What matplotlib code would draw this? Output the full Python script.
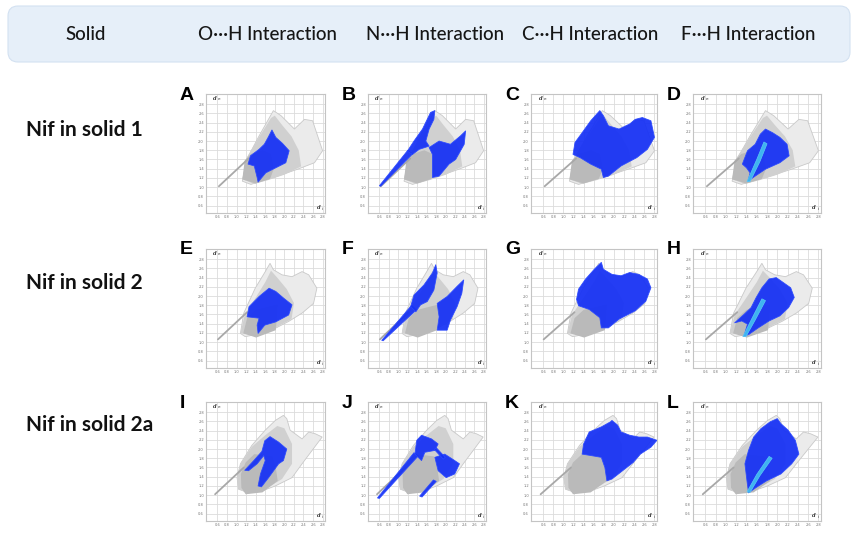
import matplotlib
matplotlib.use('Agg')
import matplotlib.pyplot as plt
from matplotlib.patches import Polygon, FancyBboxPatch
from matplotlib import font_manager

# Header / row labels / panel letters
headers = ['Solid', 'O\u00b7\u00b7\u00b7H Interaction', 'N\u00b7\u00b7\u00b7H Interaction',
           'C\u00b7\u00b7\u00b7H Interaction', 'F\u00b7\u00b7\u00b7H Interaction']
row_labels = ['Nif in solid 1', 'Nif in solid 2', 'Nif in solid 2a']
panel_letters = ['A', 'B', 'C', 'D', 'E', 'F', 'G', 'H', 'I', 'J', 'K', 'L']

# axis ticks (d_i / d_e in Angstrom)
ticks = [0.6, 0.8, 1.0, 1.2, 1.4, 1.6, 1.8, 2.0, 2.2, 2.4, 2.6, 2.8]
tick_labels = ['0.6', '0.8', '1.0', '1.2', '1.4', '1.6', '1.8', '2.0', '2.2', '2.4', '2.6', '2.8']

# full fingerprint outline (di, de) per solid
env_row1 = [(1.12, 1.13), (1.23, 1.64), (1.47, 2.11), (1.77, 2.66), (1.93, 2.55), (2.21, 2.26),
            (2.42, 2.47), (2.59, 2.44), (2.80, 1.79), (2.63, 1.53), (2.28, 1.39), (1.86, 1.24),
            (1.51, 1.13), (1.30, 1.06)]
env_row2 = [(1.08, 1.19), (1.15, 1.63), (1.39, 2.17), (1.60, 2.53), (1.70, 2.71), (1.77, 2.57),
            (1.95, 2.46), (2.16, 2.42), (2.37, 2.53), (2.51, 2.46), (2.68, 2.17), (2.61, 1.84),
            (2.37, 1.63), (2.09, 1.45), (1.81, 1.30), (1.39, 1.16), (1.18, 1.12)]
env_row3 = [(1.01, 1.38), (1.08, 1.68), (1.32, 2.08), (1.60, 2.41), (1.81, 2.62), (1.98, 2.73),
            (2.05, 2.66), (2.12, 2.41), (2.37, 2.22), (2.51, 2.37), (2.65, 2.33), (2.79, 2.26),
            (2.58, 1.97), (2.37, 1.68), (2.16, 1.38), (1.81, 1.20), (1.53, 1.09), (1.25, 1.05),
            (1.04, 1.13)]

# denser middle part
mid_row1 = [(1.12, 1.17), (1.20, 1.62), (1.45, 2.05), (1.72, 2.50), (1.80, 2.55), (1.95, 2.35),
            (2.15, 2.10), (2.30, 1.80), (2.35, 1.45), (2.00, 1.27), (1.65, 1.15), (1.37, 1.07)]
mid_row2 = [(1.08, 1.19), (1.17, 1.59), (1.39, 1.95), (1.60, 2.30), (1.72, 2.55), (1.85, 2.40),
            (2.05, 2.15), (2.20, 1.85), (2.15, 1.50), (1.81, 1.31), (1.39, 1.15)]
mid_row3 = [(1.01, 1.38), (1.08, 1.68), (1.32, 2.05), (1.60, 2.30), (1.85, 2.50), (2.00, 2.45),
            (2.16, 2.11), (2.16, 1.68), (1.95, 1.35), (1.60, 1.13), (1.25, 1.05), (1.04, 1.13)]

# densest core
core_row1 = [(1.12, 1.17), (1.17, 1.58), (1.30, 1.72), (1.55, 1.80), (1.72, 1.72), (1.78, 1.40),
             (1.70, 1.18), (1.40, 1.08)]
core_row2 = [(1.14, 1.19), (1.22, 1.52), (1.40, 1.70), (1.86, 1.82), (1.84, 1.50), (1.82, 1.26),
             (1.41, 1.10)]
core_row3 = [(1.09, 1.46), (1.19, 1.71), (1.37, 1.89), (1.75, 1.84), (1.82, 1.60), (1.86, 1.31),
             (1.54, 1.06), (1.19, 1.02), (1.10, 1.16)]

# thin diagonal spike (start, end)
spike_row1 = [(0.63, 1.02), (1.25, 1.62)]
spike_row2 = [(0.61, 1.06), (1.22, 1.65)]
spike_row3 = [(0.55, 1.02), (1.15, 1.60)]

# highlighted contacts (blue)
blue_A = [[(1.24, 1.50), (1.29, 1.68), (1.47, 1.82), (1.58, 1.93), (1.66, 2.08), (1.74, 2.24),
           (1.82, 2.08), (1.96, 1.95), (2.10, 1.79), (2.03, 1.53), (1.82, 1.42), (1.61, 1.31),
           (1.45, 1.11), (1.43, 1.21), (1.37, 1.46)]]
blue_B = [[(0.60, 1.03), (1.20, 1.80), (1.30, 1.72), (0.63, 1.02)],
          [(1.19, 1.78), (1.33, 2.00), (1.51, 2.26), (1.68, 2.62), (1.77, 2.66), (1.75, 2.47),
           (1.65, 2.26), (1.58, 2.00), (1.65, 1.89), (1.44, 1.82), (1.30, 1.71)],
          [(1.65, 1.86), (1.86, 2.00), (2.10, 1.93), (2.31, 2.11), (2.42, 2.22), (2.39, 1.93),
           (2.21, 1.60), (2.07, 1.50), (1.86, 1.24), (1.72, 1.21), (1.72, 1.46), (1.72, 1.71)]]
blue_C = [[(1.19, 1.71), (1.23, 1.97), (1.37, 2.18), (1.54, 2.44), (1.72, 2.66), (1.79, 2.55),
           (1.89, 2.33), (2.10, 2.26), (2.31, 2.37), (2.42, 2.47), (2.56, 2.51), (2.73, 2.44),
           (2.80, 2.08), (2.66, 1.82), (2.45, 1.64), (2.14, 1.46), (1.89, 1.24), (1.79, 1.21),
           (1.75, 1.39), (1.54, 1.50), (1.33, 1.64)]]
blue_D = [[(1.32, 1.50), (1.42, 1.79), (1.57, 1.93), (1.67, 2.15), (1.77, 2.26), (1.91, 2.18),
           (2.05, 2.08), (2.19, 1.93), (2.23, 1.68), (2.05, 1.53), (1.91, 1.46), (1.77, 1.39),
           (1.57, 1.24), (1.43, 1.13), (1.47, 1.31), (1.40, 1.42)]]
blue_E = [[(1.22, 1.55), (1.26, 1.77), (1.47, 1.99), (1.68, 2.17), (1.82, 2.10), (1.99, 1.95),
           (2.16, 1.81), (2.09, 1.59), (1.82, 1.44), (1.59, 1.37), (1.45, 1.19), (1.43, 1.37),
           (1.47, 1.52)]]
blue_F = [[(0.65, 1.04), (1.28, 1.80), (1.38, 1.70), (0.68, 1.03)],
          [(1.26, 1.77), (1.33, 2.02), (1.54, 2.24), (1.72, 2.50), (1.79, 2.68), (1.82, 2.50),
           (1.75, 2.13), (1.61, 1.88), (1.47, 1.81), (1.37, 1.66)],
          [(1.82, 1.84), (2.03, 1.99), (2.24, 2.21), (2.38, 2.35), (2.34, 2.06), (2.24, 1.77),
           (2.10, 1.48), (2.03, 1.26), (1.82, 1.26), (1.86, 1.55)]]
blue_G = [[(1.26, 1.93), (1.30, 2.15), (1.44, 2.37), (1.61, 2.58), (1.75, 2.73), (1.79, 2.58),
           (1.96, 2.47), (2.14, 2.44), (2.31, 2.51), (2.49, 2.47), (2.66, 2.37), (2.73, 2.18),
           (2.63, 1.89), (2.42, 1.68), (2.10, 1.50), (1.89, 1.31), (1.75, 1.31), (1.72, 1.53),
           (1.51, 1.71), (1.30, 1.79)]]
blue_H = [[(1.17, 1.42), (1.35, 1.60), (1.49, 1.75), (1.59, 1.97), (1.70, 2.18), (1.84, 2.37),
           (1.98, 2.40), (2.12, 2.29), (2.26, 2.18), (2.33, 1.97), (2.22, 1.75), (2.05, 1.57),
           (1.84, 1.46), (1.63, 1.31), (1.45, 1.17), (1.35, 1.13), (1.42, 1.39), (1.31, 1.46)]]
blue_I = [[(1.17, 1.54), (1.36, 1.75), (1.53, 1.95), (1.59, 2.18), (1.70, 2.27), (1.88, 2.15),
           (2.05, 2.00), (1.98, 1.75), (1.88, 1.68), (1.67, 1.38), (1.52, 1.18), (1.45, 1.20),
           (1.50, 1.46), (1.60, 1.75), (1.57, 1.86), (1.43, 1.68), (1.25, 1.53)]]
blue_J = [[(0.56, 0.94), (1.33, 1.92), (1.42, 1.85), (0.60, 0.93)],
          [(1.35, 1.89), (1.39, 2.19), (1.49, 2.30), (1.70, 2.22), (1.84, 2.11), (1.77, 1.97),
           (1.56, 1.93), (1.49, 1.75)],
          [(1.77, 1.82), (1.98, 1.89), (2.19, 1.75), (2.29, 1.68), (2.19, 1.46), (2.01, 1.38),
           (1.84, 1.53)],
          [(1.76, 1.99), (1.95, 1.78), (1.99, 1.82), (1.80, 2.03)],
          [(1.45, 0.98), (1.74, 1.33), (1.80, 1.30), (1.50, 0.96)]]
blue_K = [[(1.37, 1.89), (1.40, 2.11), (1.51, 2.37), (1.75, 2.48), (1.93, 2.59), (1.96, 2.62),
           (2.07, 2.52), (2.14, 2.37), (2.31, 2.30), (2.49, 2.26), (2.66, 2.26), (2.85, 2.19),
           (2.73, 2.04), (2.52, 1.89), (2.38, 1.71), (2.17, 1.53), (1.96, 1.35), (1.86, 1.31),
           (1.82, 1.60), (1.75, 1.82), (1.54, 1.86)]]
blue_L = [[(1.37, 1.68), (1.44, 1.97), (1.54, 2.26), (1.68, 2.44), (1.86, 2.59), (2.00, 2.66),
           (2.07, 2.55), (2.21, 2.41), (2.35, 2.19), (2.42, 1.89), (2.28, 1.68), (2.07, 1.46),
           (1.79, 1.31), (1.58, 1.16), (1.44, 1.05), (1.41, 1.31)]]

# most frequent contacts (cyan streak) for F...H
cyan_D = [(1.41, 1.12), (1.60, 1.60), (1.74, 1.98), (1.80, 1.94), (1.66, 1.55), (1.47, 1.12)]
cyan_H = [(1.33, 1.12), (1.50, 1.50), (1.70, 1.94), (1.77, 1.90), (1.57, 1.48), (1.39, 1.12)]
cyan_L = [(1.41, 1.07), (1.60, 1.45), (1.84, 1.84), (1.90, 1.80), (1.66, 1.42), (1.47, 1.06)]

envs = [env_row1, env_row2, env_row3]
mids = [mid_row1, mid_row2, mid_row3]
cores = [core_row1, core_row2, core_row3]
spikes = [spike_row1, spike_row2, spike_row3]
blues = [blue_A, blue_B, blue_C, blue_D, blue_E, blue_F, blue_G, blue_H,
         blue_I, blue_J, blue_K, blue_L]
cyans = {3: cyan_D, 7: cyan_H, 11: cyan_L}

W, H = 858, 539
col_px = [(206, 325), (368, 486), (531, 657), (693, 821)]
row_px = [(94, 213), (249, 368), (402, 521)]
row_label_y = [130, 283, 425]

names = {f.name for f in font_manager.fontManager.ttflist}
head_font = 'Liberation Sans Narrow' if 'Liberation Sans Narrow' in names else 'Lato'
label_font = 'Lato' if 'Lato' in names else 'DejaVu Sans'

fig = plt.figure(figsize=(W / 100, H / 100), dpi=100)
fig.patch.set_facecolor('white')

# background layer in pixel units
bg = fig.add_axes([0, 0, 1, 1])
bg.set_xlim(0, W)
bg.set_ylim(H, 0)
bg.axis('off')
bg.add_patch(FancyBboxPatch((8, 6), 842, 56, boxstyle='round,pad=0,rounding_size=10',
                            facecolor='#e6eff9', edgecolor='#d3e1f1', linewidth=0.8))
header_x = [86, 267, 435, 590, 748]
for x, txt in zip(header_x, headers):
    bg.text(x, 34, txt, ha='center', va='center', fontsize=13.5, color='#161616',
            family=head_font, fontweight='medium')
for y, txt in zip(row_label_y, row_labels):
    bg.text(26, y, txt, ha='left', va='center', fontsize=15, fontweight='bold',
            color='#111111', family=label_font)

for i, letter in enumerate(panel_letters):
    r, c = divmod(i, 4)
    l, rr = col_px[c]
    t, b = row_px[r]
    bg.text(l - 26, t + 1, letter, ha='left', va='center', fontsize=14,
            fontweight='bold', color='black', family='Liberation Sans')

    ax = fig.add_axes([l / W, 1 - b / H, (rr - l) / W, (b - t) / H])
    ax.set_xlim(0.36, 2.85)
    ax.set_ylim(0.44, 3.02)
    ax.set_xticks(ticks)
    ax.set_yticks(ticks)
    ax.set_xticklabels(tick_labels)
    ax.set_yticklabels(tick_labels)
    ax.tick_params(length=0, labelsize=2.6, labelcolor='#777777', pad=1.5)
    ax.grid(True, color='#dcdcdc', linewidth=0.6)
    ax.set_axisbelow(True)
    for s in ax.spines.values():
        s.set_color('#c4c4c4')
        s.set_linewidth(0.8)

    ax.add_patch(Polygon(envs[r], closed=True, facecolor='#ebebeb', edgecolor='#c9c9c9',
                         linewidth=0.6, zorder=2))
    ax.add_patch(Polygon(mids[r], closed=True, facecolor='#d0d0d0', edgecolor='none', zorder=3))
    ax.add_patch(Polygon(cores[r], closed=True, facecolor='#bababa', edgecolor='none', zorder=4))
    (x0, y0), (x1, y1) = spikes[r]
    ax.plot([x0, x1], [y0, y1], color='#a8a8a8', linewidth=1.3, solid_capstyle='round', zorder=4)

    for poly in blues[i]:
        ax.add_patch(Polygon(poly, closed=True, facecolor='#1530f5', edgecolor='#2a48ff',
                             linewidth=0.6, alpha=0.93, joinstyle='round', zorder=5))
    if i in cyans:
        ax.add_patch(Polygon(cyans[i], closed=True, facecolor='#3fb4f0', edgecolor='#5cc8f5',
                             linewidth=0.5, zorder=6))

    ax.text(0.06, 0.985, 'd', transform=ax.transAxes, fontsize=5, style='italic',
            fontweight='bold', color='#333333', family='Liberation Serif', va='top')
    ax.text(0.1, 0.975, 'e', transform=ax.transAxes, fontsize=3, color='#333333', va='top')
    ax.text(0.93, 0.05, 'd', transform=ax.transAxes, fontsize=5, style='italic',
            fontweight='bold', color='#333333', family='Liberation Serif', va='center')
    ax.text(0.97, 0.035, 'i', transform=ax.transAxes, fontsize=3, color='#333333', va='center')

fig.savefig('out.png', dpi=100, facecolor='white')
